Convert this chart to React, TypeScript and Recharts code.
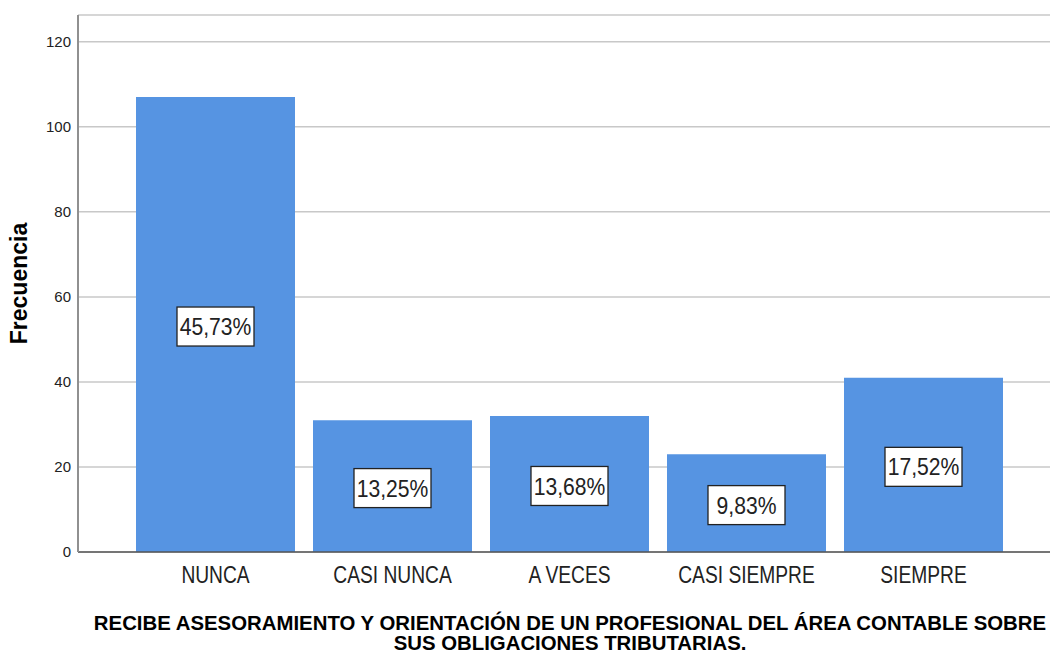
import React from "react";
import { BarChart, Bar, XAxis, YAxis, CartesianGrid, LabelList } from "recharts";

const categories = ["NUNCA", "CASI NUNCA", "A VECES", "CASI SIEMPRE", "SIEMPRE"];
const frequencies = [107, 31, 32, 23, 41];
const pctLabels = ["45,73%", "13,25%", "13,68%", "9,83%", "17,52%"];
const yTicks = [0, 20, 40, 60, 80, 100, 120];
const yAxisTitle = "Frecuencia";
const titleLines = [
  "RECIBE ASESORAMIENTO Y ORIENTACIÓN DE UN PROFESIONAL DEL ÁREA CONTABLE SOBRE",
  "SUS OBLIGACIONES TRIBUTARIAS.",
];

const data = categories.map((c, i) => ({ name: c, value: frequencies[i], pct: pctLabels[i] }));

const FONT = "'Liberation Sans', Arial, sans-serif";

const XTick = (props: any) => {
  const { x, y, payload } = props;
  return (
    <g transform={`translate(${x},${y})`}>
      <text
        transform="scale(0.8,1)"
        textAnchor="middle"
        dy={17}
        fontSize={24}
        fontFamily={FONT}
        fill="#222"
      >
        {payload.value}
      </text>
    </g>
  );
};

const PctLabel = (props: any) => {
  const { x, y, width, height, value } = props;
  const cx = Number(x) + Number(width) / 2;
  const cy = Number(y) + Number(height) / 2 + 2;
  const bw = 77;
  const bh = 39;
  return (
    <g>
      <rect x={cx - bw / 2} y={cy - bh / 2} width={bw} height={bh} fill="#fff" stroke="#222" strokeWidth={1.3} />
      <g transform={`translate(${cx},${cy + 8.6})`}>
        <text transform="scale(0.88,1)" textAnchor="middle" fontSize={24} fontFamily={FONT} fill="#222">
          {value}
        </text>
      </g>
    </g>
  );
};

const YTitle = (props: any) => {
  const vb = props.viewBox || {};
  const cy = vb.y + vb.height / 2;
  return (
    <text
      x={19}
      y={cy}
      transform={`rotate(-90, 19, ${cy})`}
      textAnchor="middle"
      dominantBaseline="central"
      fontSize={23}
      fontWeight="bold"
      fontFamily={FONT}
      fill="#000"
    >
      {yAxisTitle}
    </text>
  );
};

const XTitle = (props: any) => {
  const vb = props.viewBox || {};
  const cx = vb.x + vb.width / 2 + 6;
  return (
    <g>
      {titleLines.map((t, i) => (
        <g key={i} transform={`translate(${cx},${630 + i * 20})`}>
          <text transform="scale(1.045,1)" textAnchor="middle" fontSize={19.5} fontWeight="bold" fontFamily={FONT} fill="#000">
            {t}
          </text>
        </g>
      ))}
    </g>
  );
};

export default function App() {
  return (
    <div style={{ position: "absolute", left: 0, top: 0, width: 1051, height: 655, background: "#fff" }}>
      <BarChart width={1051} height={655} data={data} margin={{ top: 15, right: 1, left: 0, bottom: 0 }}>
        <CartesianGrid vertical={false} stroke="#c8c8c8" strokeWidth={1.5} />
        <XAxis
          dataKey="name"
          height={103}
          padding={{ left: 49, right: 38 }}
          tickLine={false}
          tickMargin={8}
          axisLine={{ stroke: "#555", strokeWidth: 1.5 }}
          tick={<XTick />}
          interval={0}
          label={<XTitle />}
        />
        <YAxis
          width={78}
          domain={[0, 126.3]}
          ticks={yTicks}
          tickLine={false}
          tickMargin={1}
          axisLine={{ stroke: "#909090", strokeWidth: 2 }}
          tick={{ fontSize: 15, fill: "#222", fontFamily: FONT }}
          label={<YTitle />}
        />
        <Bar dataKey="value" fill="#5694e2" barSize={159} isAnimationActive={false}>
          <LabelList dataKey="pct" content={<PctLabel />} />
        </Bar>
      </BarChart>
    </div>
  );
}
